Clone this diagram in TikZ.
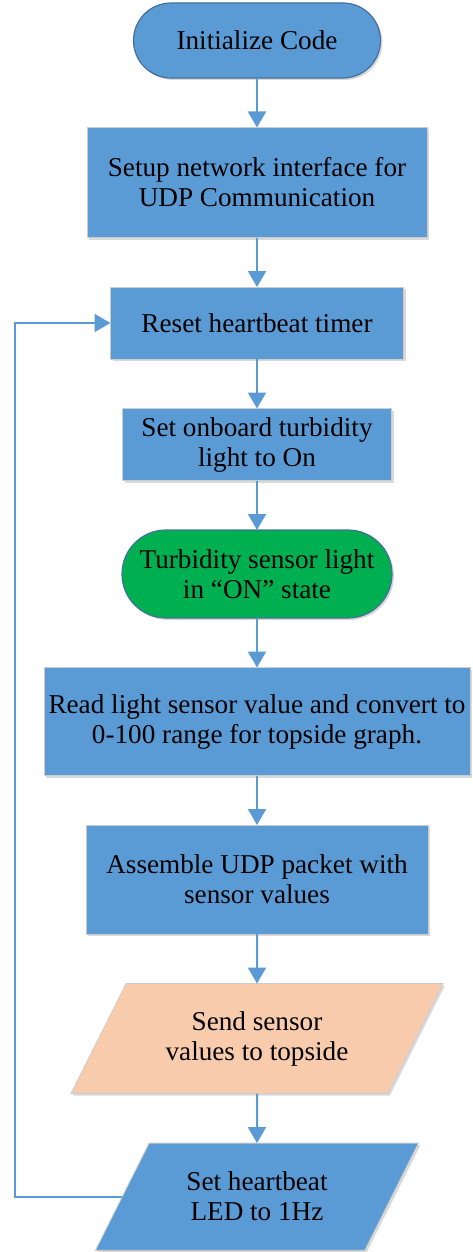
\documentclass[tikz,border=0pt]{standalone}
\usepackage{fontspec}
\setmainfont{Liberation Serif}
\usepackage{xcolor}
\usetikzlibrary{arrows.meta,positioning,shapes.geometric,shadows}
\definecolor{flowblue}{HTML}{5B9BD5}
\definecolor{edgeblue}{HTML}{41719C}
\definecolor{stategreen}{HTML}{00B050}
\definecolor{sendpeach}{HTML}{F8CBAD}
\tikzset{
  softshadow/.style={drop shadow={shadow xshift=2pt,shadow yshift=-2pt,opacity=0.15,fill=black}},
  boxfont/.style={font=\fontsize{27.2}{30}\selectfont,align=center}
}

\begin{document}
\begin{tikzpicture}[x=1pt,y=1pt,
  node distance=49.5pt,
  processbox/.style={boxfont,rectangle,draw=black!20,line width=0.8pt,fill=flowblue,
    outer sep=0pt,inner sep=2pt,softshadow},
  terminalbox/.style={boxfont,rectangle,draw=edgeblue,line width=1.2pt,
    outer sep=0pt,inner sep=2pt,softshadow},
  iobox/.style={boxfont,trapezium,trapezium left angle=63.4,trapezium right angle=116.6,
    trapezium stretches body,draw=black!20,line width=0.8pt,outer sep=0pt,inner xsep=2pt,softshadow},
  flowline/.style={-{Triangle[length=16pt,width=18pt]},line width=2pt,draw=flowblue}
]
  \useasboundingbox (0,0) rectangle (472,-1252);

  \node[terminalbox,fill=flowblue,minimum width=247pt,minimum height=75pt,
    rounded corners=37.5pt] (init) at (257,-40.5) {Initialize Code};
  \node[processbox,minimum width=340pt,minimum height=110pt,below=of init]
    (setup) {Setup network interface for\\UDP Communication};
  \node[processbox,minimum width=293pt,minimum height=72pt,below=of setup]
    (reset) {Reset heartbeat timer};
  \node[processbox,minimum width=269pt,minimum height=72pt,below=of reset]
    (onboard) {Set onboard turbidity\\light to On};
  \node[terminalbox,fill=stategreen,minimum width=270pt,minimum height=88pt,
    rounded corners=44pt,below=of onboard]
    (lighton) {Turbidity sensor light\\in “ON” state};
  \node[processbox,minimum width=426pt,minimum height=108pt,below=of lighton]
    (readsensor) {Read light sensor value and convert to\\0-100 range for topside graph.};
  \node[processbox,minimum width=342pt,minimum height=109pt,below=of readsensor]
    (assemble) {Assemble UDP packet with\\sensor values};
  \node[iobox,fill=sendpeach,minimum width=372pt,inner ysep=27.7pt,below=of assemble]
    (send) {Send sensor\\values to topside};
  \node[iobox,fill=flowblue,minimum width=323pt,inner ysep=29pt,below=of send]
    (heartbeat) {Set heartbeat\\LED to 1Hz};

  \draw[flowline] (init)--(setup);
  \draw[flowline] (setup)--(reset);
  \draw[flowline] (reset)--(onboard);
  \draw[flowline] (onboard)--(lighton);
  \draw[flowline] (lighton)--(readsensor);
  \draw[flowline] (readsensor)--(assemble);
  \draw[flowline] (assemble)--(send);
  \draw[flowline] (send)--(heartbeat);

  % back to the timer reset
  \coordinate (loopx) at (15,0);
  \draw[flowline] (heartbeat.west)--(heartbeat.west -| loopx) |- (reset.west);
\end{tikzpicture}
\end{document}
